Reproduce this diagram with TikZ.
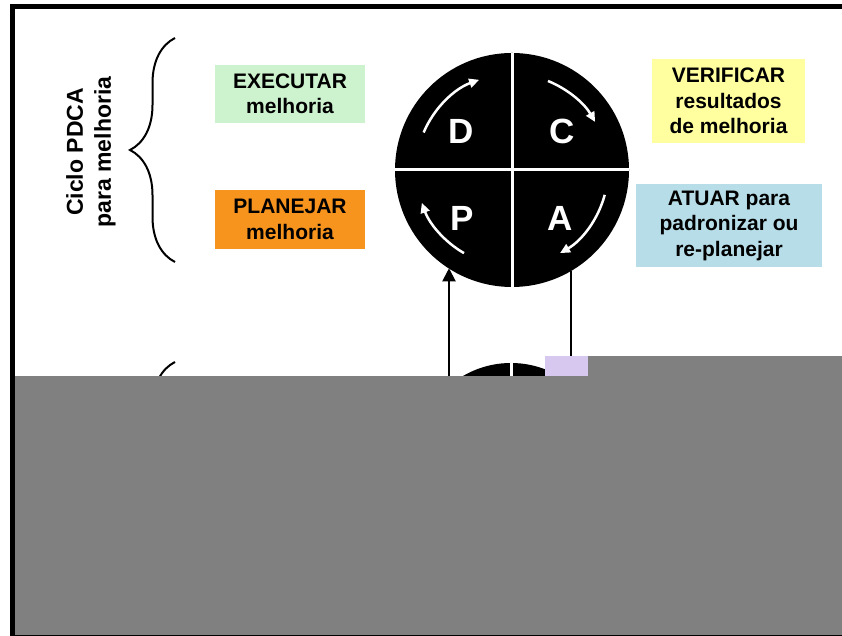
\documentclass[tikz,border=0pt]{standalone}
\usepackage{fontspec}
\setmainfont{Liberation Sans}
\usetikzlibrary{arrows.meta,decorations.pathreplacing}

\definecolor{execgreen}{RGB}{204,242,206}
\definecolor{planorange}{RGB}{247,148,30}
\definecolor{verifyellow}{RGB}{255,255,160}
\definecolor{actblue}{RGB}{183,222,232}
\definecolor{coverGray}{RGB}{128,128,128}
\definecolor{smudge}{RGB}{214,200,238}

\begin{document}
\begin{tikzpicture}[x=1pt,y=1pt,
    stagebox/.style={inner sep=0pt,align=center,
      font=\fontsize{21pt}{25.5pt}\selectfont\bfseries},
    letter/.style={text=white,inner sep=0pt,
      font=\fontsize{35pt}{35pt}\selectfont\bfseries},
    turn/.style={white,line width=2.5pt,-{Triangle[length=10pt,width=9pt]}},
    crossline/.style={white,line width=3pt},
    bigbrace/.style={decorate,decoration={brace,amplitude=45pt},line width=2pt}]
  \useasboundingbox (0,0) rectangle (842,636);
  \clip (0,0) rectangle (842,636);

  % side label and braces
  \node[rotate=90,align=center,font=\fontsize{23pt}{28pt}\selectfont\bfseries]
    (cicloLbl) at (91,484) {Ciclo PDCA\\para melhoria};
  \draw[bigbrace] (175,374) -- (175,598);
  \draw[bigbrace] (175,50) -- (175,274);

  % stage boxes
  \node[stagebox,fill=execgreen,minimum width=150pt,minimum height=58pt]
    (execBox) at (290,542) {EXECUTAR\\melhoria};
  \node[stagebox,fill=planorange,minimum width=150pt,minimum height=59pt]
    (planBox) at (290,416.5) {PLANEJAR\\melhoria};
  \node[stagebox,fill=verifyellow,minimum width=153pt,minimum height=84pt]
    (verifBox) at (728.5,535) {VERIFICAR\\resultados\\de melhoria};
  \node[stagebox,fill=actblue,minimum width=186pt,minimum height=83pt]
    (actBox) at (729,410.5) {ATUAR para\\padronizar ou\\re-planejar};

  % the wheel
  \node[circle,fill=black,minimum size=234pt,inner sep=0pt] (pdca) at (512,466) {};
  \draw[crossline] (pdca.north) -- (pdca.south);
  \draw[crossline] (pdca.west) -- (pdca.east);
  \node[letter] (letD) at (461,505) {D};
  \node[letter] (letC) at (562,505) {C};
  \node[letter] (letP) at (462,418) {P};
  \node[letter] (letA) at (560,418) {A};
  \foreach \a/\b in {157/110,68/30,-15/-60,240/200}
    \draw[turn] ([shift={(\a:96)}]pdca.center) arc[start angle=\a,end angle=\b,radius=96];

  % next wheel below
  \node[circle,fill=black,minimum size=190pt,inner sep=0pt] (pdcaNext) at (511,178) {};
  \draw[crossline] (pdcaNext.north) -- (pdcaNext.south);

  % links between the wheels
  \coordinate (inP) at (449,240);
  \coordinate (outA) at (571,240);
  \draw[line width=2pt,-{Triangle[length=13pt,width=13pt]}] (inP) -- (inP |- pdca.237);
  \draw[line width=2pt] (outA |- pdca.300) -- (outA);

  % covered part
  \fill[coverGray] (15,1) rectangle (842,260);
  \fill[coverGray] (588,260) rectangle (842,280);
  \fill[smudge] (545,260) rectangle (588,280);

  \draw[line width=5pt] (12.5,-1.5) rectangle (845,629.5);
\end{tikzpicture}
\end{document}
